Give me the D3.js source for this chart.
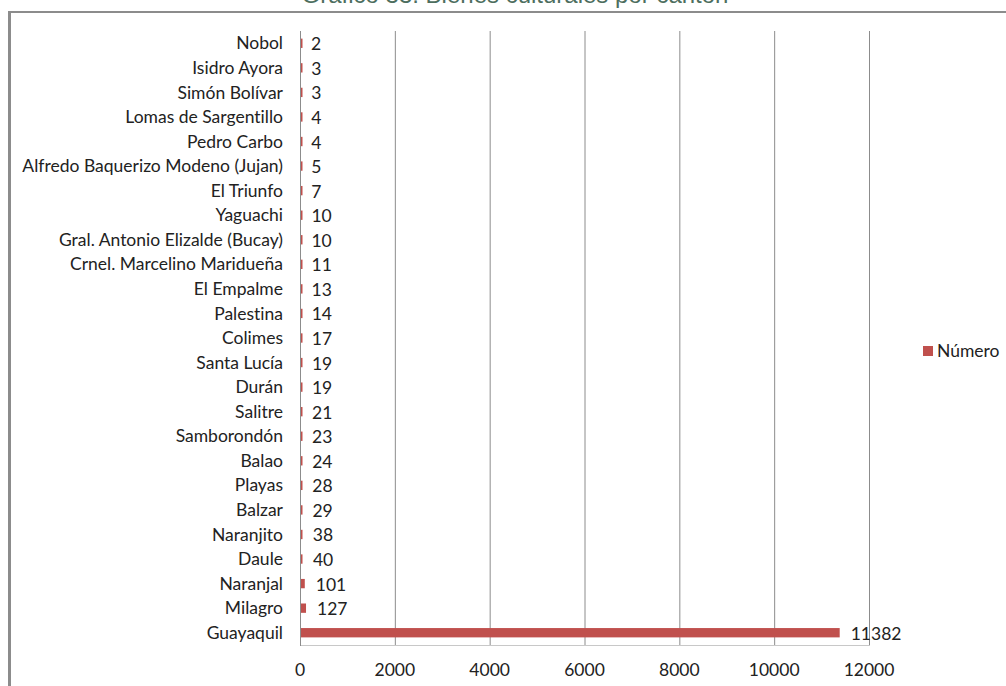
<!DOCTYPE html>
<html><head><meta charset="utf-8">
<script src="https://cdn.jsdelivr.net/npm/d3@7"></script>
<style>
html,body{margin:0;padding:0;background:#fff;}
svg{display:block;}
text{font-variant-ligatures:none;font-feature-settings:"liga" 0;}
</style></head>
<body>
<svg id="chart" width="1006" height="686"></svg>
<script>
const categories = ["Nobol","Isidro Ayora","Simón Bolívar","Lomas de Sargentillo","Pedro Carbo","Alfredo Baquerizo Modeno (Jujan)","El Triunfo","Yaguachi","Gral. Antonio Elizalde (Bucay)","Crnel. Marcelino Maridueña","El Empalme","Palestina","Colimes","Santa Lucía","Durán","Salitre","Samborondón","Balao","Playas","Balzar","Naranjito","Daule","Naranjal","Milagro","Guayaquil"];
const values = [2,3,3,4,4,5,7,10,10,11,13,14,17,19,19,21,23,24,28,29,38,40,101,127,11382];
const xTicks = [0,2000,4000,6000,8000,10000,12000];
const seriesName = "Número";
const titleText = "Gráfico 33. Bienes culturales por cantón";

(function(){
const svg = d3.select("#chart");
const font = "Lato, 'Open Sans', sans-serif";
const fs = 17.5;
const pL = 300, pR = 869, pT = 31, pB = 645;

// frame
svg.append("line").attr("x1",8).attr("x2",1006).attr("y1",12).attr("y2",12)
  .attr("stroke","#8c8c8c").attr("stroke-width",2);
svg.append("line").attr("x1",9.5).attr("x2",9.5).attr("y1",11).attr("y2",686)
  .attr("stroke","#8c8c8c").attr("stroke-width",3);

// title (cut off at top, as in the reference)
svg.append("text").attr("x",515).attr("y",3).attr("text-anchor","middle")
  .attr("font-family","'Liberation Sans', Arial, sans-serif").attr("font-size",24)
  .attr("fill","#4d6e5e").text(titleText);

const x = d3.scaleLinear().domain([0,12000]).range([pL,pR]);
const y = d3.scaleBand().domain(categories).range([pT,pB]).paddingInner(0.62).paddingOuter(0.31);

// gridlines
svg.append("g").selectAll("line").data(xTicks.slice(1)).join("line")
  .attr("x1",d=>x(d)+0.5).attr("x2",d=>x(d)+0.5).attr("y1",pT).attr("y2",pB)
  .attr("stroke","#8c8c8c").attr("stroke-width",1);
// bottom line
svg.append("line").attr("x1",pL).attr("x2",pR+1).attr("y1",pB+0.5).attr("y2",pB+0.5)
  .attr("stroke","#c8c8c8").attr("stroke-width",1);
// y axis line
svg.append("line").attr("x1",pL+0.5).attr("x2",pL+0.5).attr("y1",pT).attr("y2",pB+1)
  .attr("stroke","#8c8c8c").attr("stroke-width",1);

// x tick labels
svg.append("g").selectAll("text").data(xTicks).join("text")
  .attr("x",d=>x(d)).attr("y",676).attr("text-anchor","middle")
  .attr("font-family",font).attr("font-size",fs).attr("fill","#222")
  .text(d=>d);

// category labels
svg.append("g").selectAll("text").data(categories).join("text")
  .attr("x",283).attr("y",d=>y(d)+y.bandwidth()/2).attr("dy","0.35em")
  .attr("text-anchor","end").attr("font-family",font).attr("font-size",fs).attr("fill","#222")
  .text(d=>d);

// bars
svg.append("g").selectAll("rect").data(values).join("rect")
  .attr("x",x(0)+1).attr("y",(d,i)=>y(categories[i]))
  .attr("width",d=>Math.max(1.5, x(d)-x(0)-1)).attr("height",y.bandwidth())
  .attr("fill","#c0504d");

// value labels
svg.append("g").selectAll("text").data(values).join("text")
  .attr("x",d=>x(d)+11).attr("y",(d,i)=>y(categories[i])+y.bandwidth()/2).attr("dy","0.4em")
  .attr("font-family",font).attr("font-size",fs).attr("fill","#222")
  .text(d=>d);

// legend
svg.append("rect").attr("x",923).attr("y",346).attr("width",10).attr("height",10).attr("fill","#c0504d");
svg.append("text").attr("x",937).attr("y",351).attr("dy","0.35em")
  .attr("font-family",font).attr("font-size",fs).attr("fill","#222").text(seriesName);
})();
</script>
</body></html>
